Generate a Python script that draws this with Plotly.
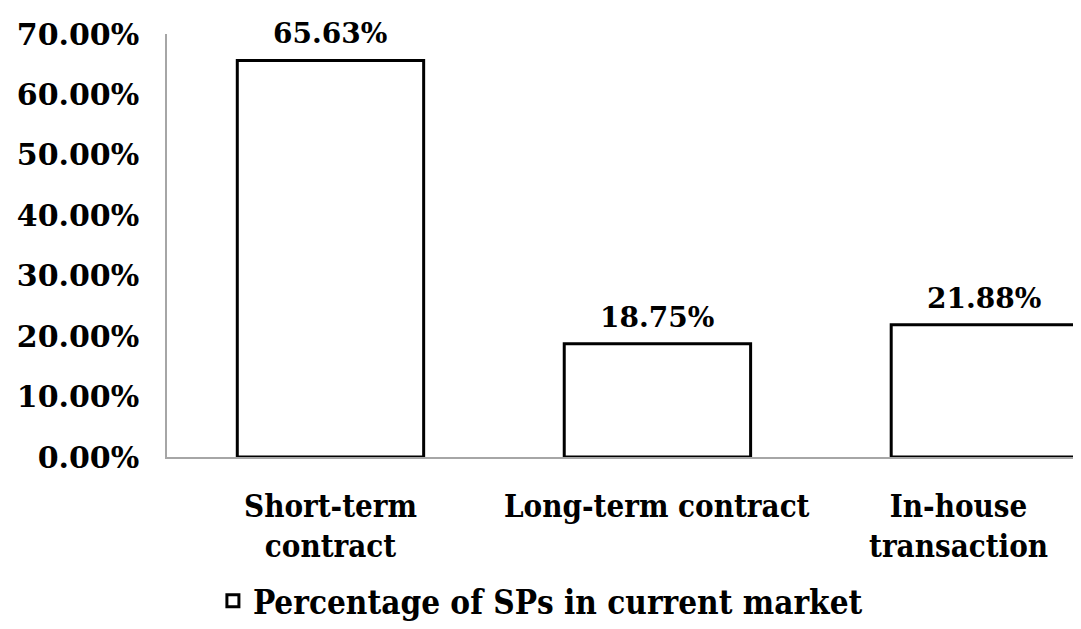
import plotly.graph_objects as go

categories = ["Short-term contract", "Long-term contract", "In-house transaction"]
tick_labels = ["Short-term<br>contract", "Long-term contract", "In-house<br>transaction"]
values = [0.6563, 0.1875, 0.2188]
series_name = "Percentage of SPs in current market"
y_ticks = [0, 0.1, 0.2, 0.3, 0.4, 0.5, 0.6, 0.7]

FONT = "DejaVu Serif"
FONT_C = "DejaVu Serif Condensed, DejaVu Serif"

fig = go.Figure(go.Bar(
    x=categories,
    y=values,
    name=f"<b>{series_name}</b>",
    width=0.57,
    marker=dict(color="white", line=dict(color="black", width=3)),
    showlegend=True,
))

# value labels above bars
for cat, v in zip(categories, values):
    fig.add_annotation(x=cat, y=v, text=f"<b>{v*100:.2f}%</b>", showarrow=False,
                       yanchor="bottom", yshift=8,
                       font=dict(family=FONT, size=28, color="black"))

# category labels (last one pushed left, the chart is cut on the right)
shifts = [0, 0, -26]
for cat, lbl, dx in zip(categories, tick_labels, shifts):
    fig.add_annotation(x=cat, y=0, yref="y", text=f"<b>{lbl}</b>", showarrow=False,
                       yanchor="top", yshift=-29, xshift=dx,
                       font=dict(family=FONT_C, size=31, color="black"))

fig.update_layout(
    width=1081, height=629,
    margin=dict(l=159, r=0, t=26, b=180),
    plot_bgcolor="white", paper_bgcolor="white",
    font=dict(family=FONT, color="black"),
    legend=dict(orientation="h", x=0.405, xanchor="center", y=-0.34, yanchor="middle",
                font=dict(family=FONT_C, size=33, color="black")),
    showlegend=True,
)
fig.update_xaxes(range=[-0.5, 2.32], showticklabels=False, showline=True,
                 linecolor="#a6a6a6", linewidth=1.5, ticks="", showgrid=False,
                 automargin=False)
fig.update_yaxes(range=[0, 0.7], tickvals=y_ticks, tickformat=".2%", showline=True,
                 linecolor="#a6a6a6", linewidth=1.5, showgrid=False, zeroline=False,
                 ticks="", ticklabelstandoff=20, automargin=False,
                 tickfont=dict(family=FONT, size=30, color="black", weight="bold"))

fig.write_html("out.html")
